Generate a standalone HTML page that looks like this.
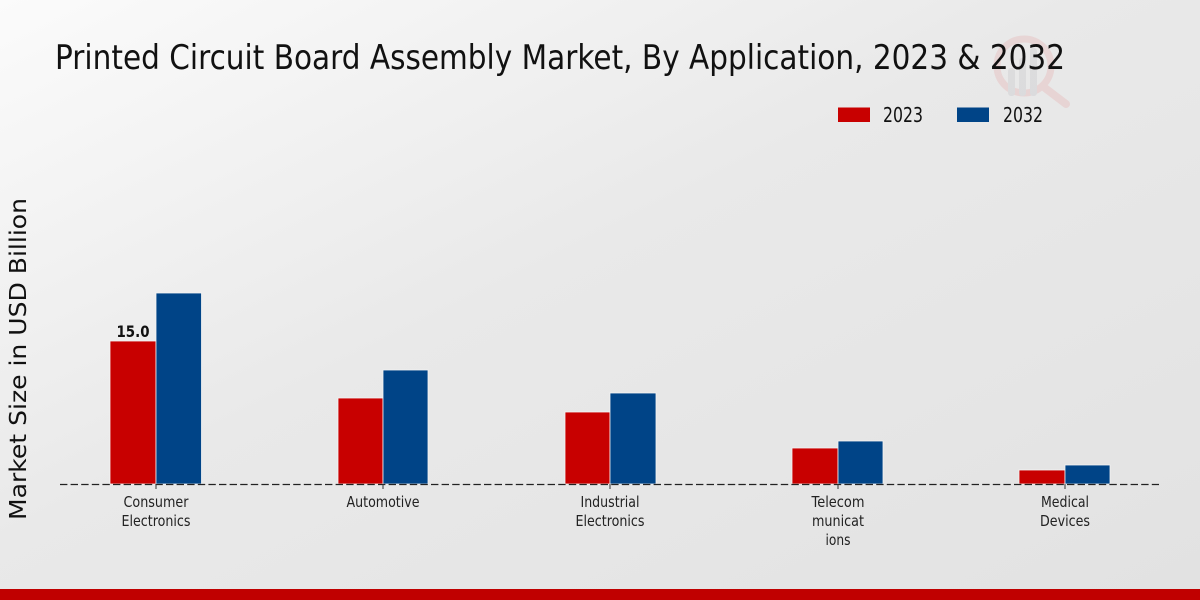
<!DOCTYPE html>
<html>
<head>
<meta charset="utf-8">
<style>
  html, body { margin: 0; padding: 0; }
  body { width: 1200px; height: 600px; overflow: hidden; }
  svg { display: block; }
  text { font-family: "DejaVu Sans", "Liberation Sans", sans-serif; }
</style>
</head>
<body>
<svg width="1200" height="600" viewBox="0 0 1200 600" xmlns="http://www.w3.org/2000/svg">
  <defs>
    <linearGradient id="bg" x1="0" y1="0" x2="1" y2="1">
      <stop offset="0" stop-color="#fbfbfb"/>
      <stop offset="0.45" stop-color="#e9e9e9"/>
      <stop offset="1" stop-color="#e2e2e2"/>
    </linearGradient>
  </defs>
  <rect x="0" y="0" width="1200" height="600" fill="url(#bg)"/>

  <!-- watermark -->
  <g opacity="0.38">
    <circle cx="1024" cy="66" r="27" fill="none" stroke="#e6b5b5" stroke-width="7"/>
    <line x1="1045" y1="88" x2="1066" y2="104" stroke="#e6b5b5" stroke-width="8" stroke-linecap="round"/>
    <rect x="1008" y="68" width="7" height="28" rx="3" fill="#c8c8cc"/>
    <rect x="1019" y="58" width="7" height="38" rx="3" fill="#c8c8cc"/>
    <rect x="1030" y="48" width="7" height="48" rx="3" fill="#c8c8cc"/>
  </g>

  <!-- title -->
  <text x="55" y="69" font-size="34" fill="#111" textLength="1010" lengthAdjust="spacingAndGlyphs">Printed Circuit Board Assembly Market, By Application, 2023 &amp; 2032</text>

  <!-- legend -->
  <rect x="838" y="107.5" width="32" height="14.5" fill="#c80000"/>
  <text x="883" y="122" font-size="20" fill="#111" textLength="40" lengthAdjust="spacingAndGlyphs">2023</text>
  <rect x="957" y="107.5" width="32" height="14.5" fill="#004487"/>
  <text x="1003" y="122" font-size="20" fill="#111" textLength="40" lengthAdjust="spacingAndGlyphs">2032</text>

  <!-- y-axis label -->
  <text transform="translate(26,520) rotate(-90)" x="0" y="0" font-size="23" fill="#111" textLength="322" lengthAdjust="spacingAndGlyphs">Market Size in USD Billion</text>

  <!-- bars -->
  <g stroke="#f4f4f4" stroke-width="0.8">
    <rect x="110" y="341" width="46" height="143" fill="#c80000"/>
    <rect x="156" y="293" width="45.5" height="191" fill="#004487"/>
    <rect x="338" y="398" width="45" height="86" fill="#c80000"/>
    <rect x="383" y="370" width="45" height="114" fill="#004487"/>
    <rect x="565" y="412" width="45" height="72" fill="#c80000"/>
    <rect x="610" y="393" width="46" height="91" fill="#004487"/>
    <rect x="792" y="448" width="46" height="36" fill="#c80000"/>
    <rect x="838" y="441" width="45" height="43" fill="#004487"/>
    <rect x="1019" y="470" width="46" height="14" fill="#c80000"/>
    <rect x="1065" y="465" width="45" height="19" fill="#004487"/>
  </g>

  <!-- baseline -->
  <line x1="60" y1="484.5" x2="1159" y2="484.5" stroke="#222" stroke-width="1.2" stroke-dasharray="7.4,3.2"/>
  <g stroke="#333" stroke-width="1">
    <line x1="156" y1="484" x2="156" y2="489"/>
    <line x1="383" y1="484" x2="383" y2="489"/>
    <line x1="610" y1="484" x2="610" y2="489"/>
    <line x1="838" y1="484" x2="838" y2="489"/>
    <line x1="1065" y1="484" x2="1065" y2="489"/>
  </g>

  <!-- value label -->
  <text x="133" y="337" font-size="16" font-weight="bold" fill="#111" text-anchor="middle" textLength="33" lengthAdjust="spacingAndGlyphs">15.0</text>

  <!-- category labels -->
  <g font-size="15" fill="#222" text-anchor="middle">
    <text x="156" y="507" textLength="65" lengthAdjust="spacingAndGlyphs">Consumer</text>
    <text x="156" y="526" textLength="69" lengthAdjust="spacingAndGlyphs">Electronics</text>
    <text x="383" y="507" textLength="73" lengthAdjust="spacingAndGlyphs">Automotive</text>
    <text x="610" y="507" textLength="59" lengthAdjust="spacingAndGlyphs">Industrial</text>
    <text x="610" y="526" textLength="69" lengthAdjust="spacingAndGlyphs">Electronics</text>
    <text x="838" y="507" textLength="53" lengthAdjust="spacingAndGlyphs">Telecom</text>
    <text x="838" y="526" textLength="52" lengthAdjust="spacingAndGlyphs">municat</text>
    <text x="838" y="545" textLength="25" lengthAdjust="spacingAndGlyphs">ions</text>
    <text x="1065" y="507" textLength="48" lengthAdjust="spacingAndGlyphs">Medical</text>
    <text x="1065" y="526" textLength="50" lengthAdjust="spacingAndGlyphs">Devices</text>
  </g>

  <!-- bottom band -->
  <rect x="0" y="589" width="1200" height="11" fill="#c00000"/>
</svg>
</body>
</html>
